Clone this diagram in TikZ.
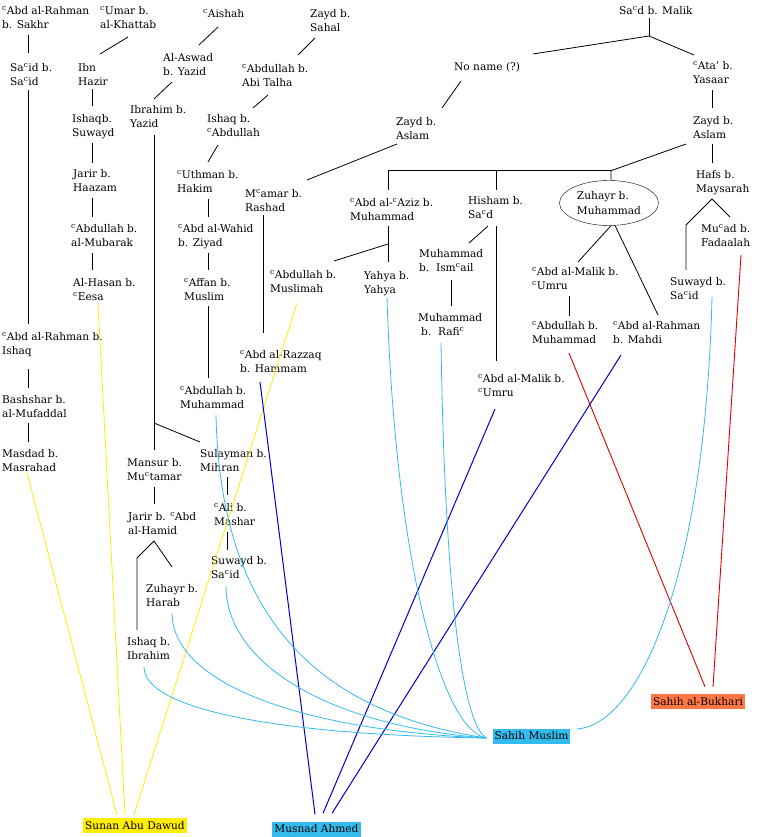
\documentclass[tikz,border=0pt]{standalone}
\usepackage{fontspec}
\setmainfont{DejaVu Serif}
\usetikzlibrary{shapes.geometric}
\newcommand\ay{\textsuperscript{c}}
\newcommand\narrfont{\fontsize{10.6}{14.5}\selectfont}
\definecolor{dawudyellow}{HTML}{FFEE00}
\definecolor{muslimblue}{HTML}{33BBEE}
\definecolor{ahmedblue}{HTML}{0000CC}
\definecolor{bukharired}{HTML}{DD0000}
\definecolor{bukhariorange}{HTML}{FF7744}
\tikzset{
  narr/.style={anchor=north west, inner sep=0pt, align=left, font=\narrfont},
  book/.style={inner xsep=2pt, inner ysep=0pt, minimum height=15pt, font=\narrfont},
  chain/.style={line width=0.8pt},
  dawudline/.style={draw=dawudyellow, line width=0.8pt},
  ahmedline/.style={draw=ahmedblue, line width=1pt},
  muslimline/.style={draw=muslimblue, line width=0.8pt},
  bukhariline/.style={draw=bukharired, line width=0.9pt},
}
\begin{document}
\begin{tikzpicture}[x=1pt, y=-1pt]
  \useasboundingbox (0,0) rectangle (760,837);
  \node[narr] (rahman) at (2,6) {\ay Abd al-Rahman\\b. Sakhr};
  \node[narr] (umar) at (100,6) {\ay Umar b.\\al-Khattab};
  \node[narr] (aishah) at (203,9) {\ay Aishah};
  \node[narr] (zaydsahal) at (310,9) {Zayd b.\\Sahal};
  \node[narr] (said) at (10,63) {Sa\ay id b.\\Sa\ay id};
  \node[narr] (hazir) at (78,63) {Ibn\\Hazir};
  \node[narr] (aswad) at (163,53) {Al-Aswad\\b. Yazid};
  \node[narr] (talha) at (242,64) {\ay Abdullah b.\\Abi Talha};
  \node[narr] (ibrahim) at (130,105) {Ibrahim b.\\Yazid};
  \node[narr] (ishaqsuwayd) at (72,114) {Ishaqb.\\Suwayd};
  \node[narr] (ishaqabd) at (207,114) {Ishaq b.\\\ay Abdullah};
  \node[narr] (jarirhaazam) at (73,169) {Jarir b.\\Haazam};
  \node[narr] (uthman) at (177,170) {\ay Uthman b.\\Hakim};
  \node[narr] (mamar) at (245,189) {M\ay amar b.\\Rashad};
  \node[narr] (mubarak) at (71,224) {\ay Abdullah b.\\al-Mubarak};
  \node[narr] (wahid) at (178,224) {\ay Abd al-Wahid\\b. Ziyad};
  \node[narr] (hasan) at (73,278) {Al-Hasan b.\\\ay Eesa};
  \node[narr] (affan) at (184,278) {\ay Affan b.\\Muslim};
  \node[narr] (muslimah) at (270,270) {\ay Abdullah b.\\Muslimah};
  \node[narr] (sadmalik) at (619,6) {Sa\ay d b. Malik};
  \node[narr] (noname) at (454,62) {No name (?)};
  \node[narr] (ata) at (693,61) {\ay Ata' b.\\Yasaar};
  \node[narr] (zaydA) at (396,117) {Zayd b.\\Aslam};
  \node[narr] (zaydB) at (693,116) {Zayd b.\\Aslam};
  \node[narr] (hafs) at (696,170) {Hafs b.\\Maysarah};
  \node[narr] (aziz) at (350,198) {\ay Abd al-\ay Aziz b.\\Muhammad};
  \node[narr] (hisham) at (468,196) {Hisham b.\\Sa\ay d};
  \node[draw, ellipse, minimum width=99pt, minimum height=45pt, inner sep=0pt,
        align=left, font=\narrfont] (zuhayrM) at (609,203) {Zuhayr b.\\Muhammad};
  \node[narr] (yahya) at (364,271) {Yahya b.\\Yahya};
  \node[narr] (ismail) at (419,249) {Muhammad\\b.\ \ Ism\ay ail};
  \node[narr] (rafi) at (418,313) {Muhammad\\\hspace{3pt}b.\ \ Rafi\ay};
  \node[narr] (malikA) at (532,267) {\ay Abd al-Malik b.\\\ay Umru};
  \node[narr] (abdmuhR) at (532,321) {\ay Abdullah b.\\Muhammad};
  \node[narr] (mahdi) at (613,321) {\ay Abd al-Rahman\\b. Mahdi};
  \node[narr] (fadaalah) at (701,224) {Mu\ay ad b.\\Fadaalah};
  \node[narr] (suwaydR) at (670,277) {Suwayd b.\\Sa\ay id};
  \node[narr] (malikB) at (478,374) {\ay Abd al-Malik b.\\\ay Umru};
  \node[narr] (razzaq) at (240,350) {\ay Abd al-Razzaq\\b. Hammam};
  \node[narr] (ishaqR) at (2,332) {\ay Abd al-Rahman b.\\Ishaq};
  \node[narr] (abdmuhL) at (180,386) {\ay Abdullah b.\\Muhammad};
  \node[narr] (bashshar) at (2,395) {Bashshar b.\\al-Mufaddal};
  \node[narr] (masdad) at (2,449) {Masdad b.\\Masrahad};
  \node[narr] (mansur) at (127,458) {Mansur b.\\Mu\ay tamar};
  \node[narr] (sulayman) at (200,449) {Sulayman b.\\Mihran};
  \node[narr] (ali) at (214,503) {\ay Ali b.\\Mashar};
  \node[narr] (jarirhamid) at (128,512) {Jarir b. \ay Abd\\al-Hamid};
  \node[narr] (suwaydL) at (211,556) {Suwayd b.\\Sa\ay id};
  \node[narr] (zuhayrH) at (146,584) {Zuhayr b.\\Harab};
  \node[narr] (ishaqI) at (127,637) {Ishaq b.\\Ibrahim};

  \node[book, fill=dawudyellow] (dawud) at (135,825.5) {Sunan Abu Dawud};
  \node[book, fill=muslimblue] (ahmed) at (316.5,829) {Musnad Ahmed};
  \node[book, fill=muslimblue] (muslim) at (531.5,736) {Sahih Muslim};
  \node[book, fill=bukhariorange] (bukhari) at (698,701.5) {Sahih al-Bukhari};

  \coordinate (sadj) at ([shift={(30,30)}]sadmalik.north west);
  \coordinate (zaydj) at ([shift={(0,-9.6)}]zuhayrM.85);
  \coordinate (ibrj) at ([shift={(27,-35)}]mansur.north west);
  \coordinate (jarj) at ([shift={(26,29)}]jarirhamid.north west);
  \coordinate (hafsj) at ([shift={(16,29)}]hafs.north west);
  \coordinate (azizj) at ([shift={(38,46)}]aziz.north west);

  \draw[chain] ([shift={(26,29)}]rahman.north west) -- ([shift={(18,-10)}]said.north west);
  \draw[chain] ([shift={(18,27)}]said.north west) -- ([shift={(26,-8)}]ishaqR.north west);
  \draw[chain] ([shift={(26,37)}]ishaqR.north west) -- ([shift={(26,-7)}]bashshar.north west);
  \draw[chain] ([shift={(26,28)}]bashshar.north west) -- ([shift={(26,-7)}]masdad.north west);
  \draw[chain] ([shift={(28,31)}]umar.north west) -- ([shift={(22,-9)}]hazir.north west);
  \draw[chain] ([shift={(14,26)}]hazir.north west) -- ([shift={(20,-8)}]ishaqsuwayd.north west);
  \draw[chain] ([shift={(20,29)}]ishaqsuwayd.north west) -- ([shift={(19,-6)}]jarirhaazam.north west);
  \draw[chain] ([shift={(19,29)}]jarirhaazam.north west) -- ([shift={(21,-7)}]mubarak.north west);
  \draw[chain] ([shift={(21,29)}]mubarak.north west) -- ([shift={(19,-8)}]hasan.north west);
  \draw[chain] ([shift={(15,18)}]aishah.north west) -- ([shift={(36,-8)}]aswad.north west);
  \draw[chain] ([shift={(9,29)}]aswad.north west) -- ([shift={(24,-6)}]ibrahim.north west);
  \draw[chain] ([shift={(5,29)}]zaydsahal.north west) -- ([shift={(56,-9)}]talha.north west);
  \draw[chain] ([shift={(26,31)}]talha.north west) -- ([shift={(46,-6)}]ishaqabd.north west);
  \draw[chain] ([shift={(11,31)}]ishaqabd.north west) -- ([shift={(31,-8)}]uthman.north west);
  \draw[chain] ([shift={(31,29)}]uthman.north west) -- ([shift={(30,-7)}]wahid.north west);
  \draw[chain] ([shift={(30,29)}]wahid.north west) -- ([shift={(24,-8)}]affan.north west);
  \draw[chain] ([shift={(24,28)}]affan.north west) -- ([shift={(28,-8)}]abdmuhL.north west);
  \draw[chain] ([shift={(24,30)}]ibrahim.north west) -- ([shift={(27,-8)}]mansur.north west);
  \draw[chain] (ibrj) -- ([shift={(0,-7)}]sulayman.north west);
  \draw[chain] ([shift={(27,29)}]mansur.north west) -- ([shift={(26,-8)}]jarirhamid.north west);
  \draw[chain] ([shift={(27,28)}]sulayman.north west) -- ([shift={(13,-8)}]ali.north west);
  \draw[chain] ([shift={(13,29)}]ali.north west) -- ([shift={(16,-6)}]suwaydL.north west);
  \draw[chain] ([shift={(10,-7)}]ishaqI.north west) -- ++(0,-72) -- (jarj)
    -- ([shift={(26,-17)}]zuhayrH.north west);
  \draw[chain] ([shift={(1,27)}]zaydA.north west) -- ([shift={(62,-9)}]mamar.north west);
  \draw[chain] ([shift={(18,26)}]mamar.north west) -- ([shift={(23,-17)}]razzaq.north west);
  \draw[chain] ([shift={(30,12)}]sadmalik.north west) -- (sadj);
  \draw[chain] ([shift={(79,-8)}]noname.north west) -- (sadj) -- ([shift={(1,-6)}]ata.north west);
  \draw[chain] ([shift={(7,19)}]noname.north west) -- ([shift={(46,-9)}]zaydA.north west);
  \draw[chain] ([shift={(19,29)}]ata.north west) -- ([shift={(19,-8)}]zaydB.north west);
  \draw[chain] ([shift={(19,28)}]zaydB.north west) -- ([shift={(16,-7)}]hafs.north west);
  \draw[chain] ([shift={(-7,28)}]zaydB.north west) -- (zaydj) -- (zuhayrM.85);
  \draw[chain] ([shift={(38,-8)}]aziz.north west) |- (zaydj);
  \draw[chain] ([shift={(28,-6)}]hisham.north west) -- ++(0,-19);
  \draw[chain] ([shift={(38,28)}]aziz.north west) -- ([shift={(24,-9)}]yahya.north west);
  \draw[chain] (azizj) -- ([shift={(64,-9)}]muslimah.north west);
  \draw[chain] ([shift={(20,30)}]hisham.north west) -- ([shift={(50,-6)}]ismail.north west);
  \draw[chain] ([shift={(28,30)}]hisham.north west) -- ([shift={(18,-13)}]malikB.north west);
  \draw[chain] ([shift={(32,31)}]ismail.north west) -- ([shift={(33,-7)}]rafi.north west);
  \draw[chain] (zuhayrM.-85) -- ([shift={(46,-5)}]malikA.north west);
  \draw[chain] (zuhayrM.-75) -- ([shift={(45,-6)}]mahdi.north west);
  \draw[chain] ([shift={(37,29)}]malikA.north west) -- ([shift={(37,-5)}]abdmuhR.north west);
  \draw[chain] ([shift={(16,-7)}]suwaydR.north west) -- ++(0,-45) -- (hafsj)
    -- ([shift={(29,-7)}]fadaalah.north west);

  \draw[dawudline] ([shift={(25,24)}]masdad.north west) -- ([shift={(-18,-3)}]dawud.north);
  \draw[dawudline] ([shift={(25,25)}]hasan.north west) -- ([shift={(-10,-3)}]dawud.north);
  \draw[dawudline] ([shift={(27,33)}]muslimah.north west) -- ([shift={(-1,-3)}]dawud.north);

  \draw[ahmedline] ([shift={(20,32)}]razzaq.north west) -- ([shift={(-1.5,-7)}]ahmed.north);
  \draw[ahmedline] ([shift={(17,35)}]malikB.north west) -- ([shift={(6.5,-8)}]ahmed.north);
  \draw[ahmedline] ([shift={(8,34)}]mahdi.north west) -- ([shift={(15.5,-8)}]ahmed.north);

  \draw[bukhariline] ([shift={(37,32)}]abdmuhR.north west) -- ([shift={(7,-7)}]bukhari.north);
  \draw[bukhariline] ([shift={(40,31)}]fadaalah.north west) -- ([shift={(15,-7)}]bukhari.north);

  \draw[muslimline] ([shift={(23,26)}]yahya.north west)
    .. controls +(8,263) and +(-45,-8) .. ([shift={(-6,2)}]muslim.west);
  \draw[muslimline] ([shift={(23,30)}]rafi.north west)
    .. controls +(4,257) and +(-23,-13) .. ([shift={(-6,2)}]muslim.west);
  \draw[muslimline] ([shift={(36,29)}]abdmuhL.north west)
    .. controls +(4,185) and +(-185,-28) .. ([shift={(-6,2)}]muslim.west);
  \draw[muslimline] ([shift={(15,30)}]suwaydL.north west)
    .. controls +(0,74) and +(-165,-13) .. ([shift={(-6,2)}]muslim.west);
  \draw[muslimline] ([shift={(26,29)}]zuhayrH.north west)
    .. controls +(0,67) and +(-195,-8) .. ([shift={(-6,2)}]muslim.west);
  \draw[muslimline] ([shift={(17,30)}]ishaqI.north west)
    .. controls +(0,43) and +(-205,-3) .. ([shift={(-6,2)}]muslim.west);
  \draw[muslimline] ([shift={(42,20)}]suwaydR.north west)
    .. controls +(-7,283) and +(62,-4) .. ([shift={(6,-7)}]muslim.east);
\end{tikzpicture}
\end{document}
